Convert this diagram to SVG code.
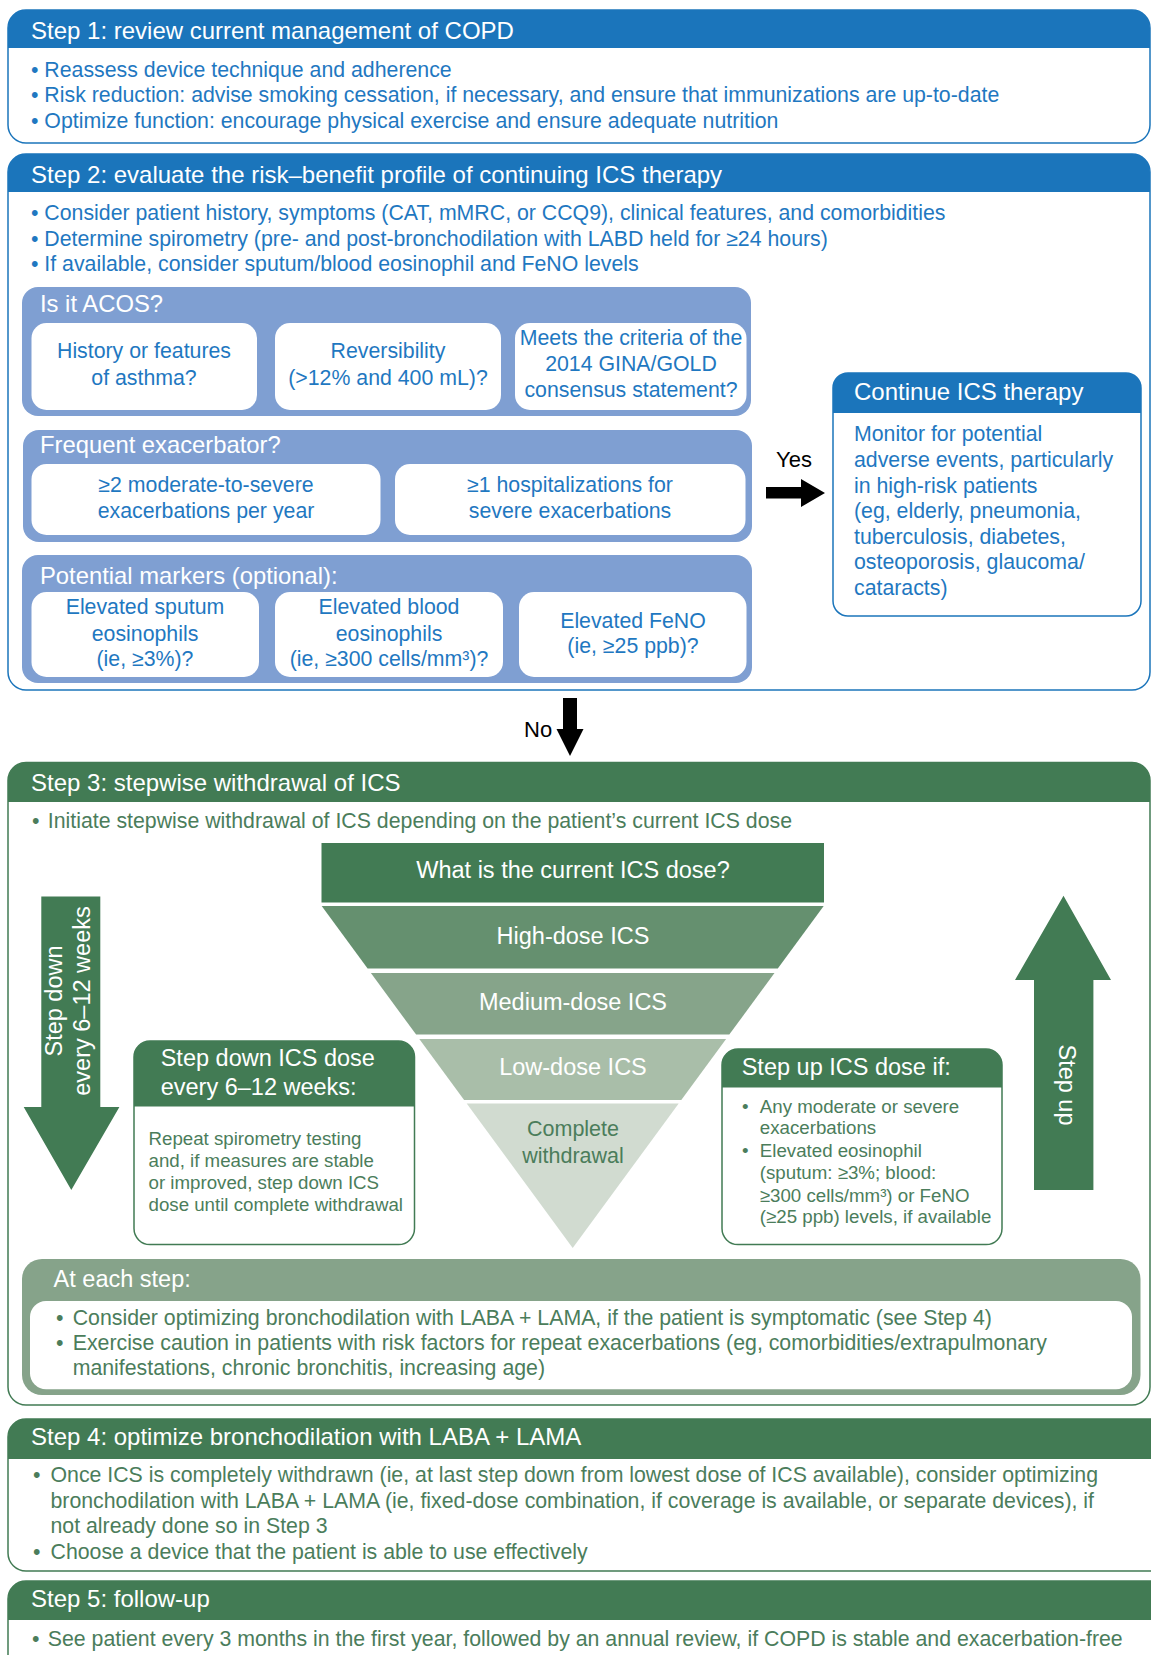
<svg xmlns="http://www.w3.org/2000/svg" width="1151" height="1655" viewBox="0 0 1151 1655">
<style>
text{font-family:"Liberation Sans",Arial,Helvetica,sans-serif}
.hd{font-size:24px;fill:#fff}
.bt{font-size:21.3px;fill:#1f78c1}
.gt{font-size:21.3px;fill:#4b7d5b}
.st{font-size:18.7px;fill:#4b7d5b}
.wt{font-size:23.5px;fill:#fff}
.pt{font-size:23.8px;fill:#fff}
.c{text-anchor:middle}
.bbox{fill:#fff;stroke:#1b75bb;stroke-width:1.5}
.gbox{fill:#fff;stroke:#427b54;stroke-width:1.5}
.bhead{fill:#1b75bb}
.ghead{fill:#427b54}
.panel{fill:#7f9fd2}
.wbox{fill:#fff}
.blk{font-size:22px;fill:#000}
</style>
<g id="step1">
<rect class="bbox" x="8" y="10" width="1142" height="133" rx="18"/>
<path class="bhead" d="M8,48 V28 A18,18 0 0 1 26,10 H1132 A18,18 0 0 1 1150,28 V48 Z"/>
<text class="hd" x="31" y="39">Step 1: review current management of COPD</text>
<text class="bt" x="31" y="77">• Reassess device technique and adherence</text>
<text class="bt" x="31" y="102">• Risk reduction: advise smoking cessation, if necessary, and ensure that immunizations are up-to-date</text>
<text class="bt" x="31" y="128">• Optimize function: encourage physical exercise and ensure adequate nutrition</text>
</g>
<g id="step2">
<rect class="bbox" x="8" y="154" width="1142" height="536" rx="18"/>
<path class="bhead" d="M8,192 V172 A18,18 0 0 1 26,154 H1132 A18,18 0 0 1 1150,172 V192 Z"/>
<text class="hd" x="31" y="183">Step 2: evaluate the risk–benefit profile of continuing ICS therapy</text>
<text class="bt" x="31" y="220">• Consider patient history, symptoms (CAT, mMRC, or CCQ9), clinical features, and comorbidities</text>
<text class="bt" x="31" y="246">• Determine spirometry (pre- and post-bronchodilation with LABD held for ≥24 hours)</text>
<text class="bt" x="31" y="271">• If available, consider sputum/blood eosinophil and FeNO levels</text>
</g>
<g id="acos">
<rect class="panel" x="22" y="287" width="729" height="129" rx="16"/>
<text class="pt" x="40" y="312">Is it ACOS?</text>
<rect class="wbox" x="31.5" y="323" width="225.5" height="87" rx="15"/>
<rect class="wbox" x="275" y="323" width="226" height="87" rx="15"/>
<rect class="wbox" x="515" y="323" width="231.5" height="87" rx="15"/>
<text class="bt c" x="144" y="358">History or features</text>
<text class="bt c" x="144" y="385">of asthma?</text>
<text class="bt c" x="388" y="358">Reversibility</text>
<text class="bt c" x="388" y="385">(&gt;12% and 400 mL)?</text>
<text class="bt c" x="631" y="345">Meets the criteria of the</text>
<text class="bt c" x="631" y="371">2014 GINA/GOLD</text>
<text class="bt c" x="631" y="397">consensus statement?</text>
</g>
<g id="frequent">
<rect class="panel" x="23" y="430" width="729" height="112" rx="16"/>
<text class="pt" x="40" y="453">Frequent exacerbator?</text>
<rect class="wbox" x="31.5" y="464" width="349" height="71" rx="15"/>
<rect class="wbox" x="395" y="464" width="350.5" height="71" rx="15"/>
<text class="bt c" x="206" y="492">≥2 moderate-to-severe</text>
<text class="bt c" x="206" y="518">exacerbations per year</text>
<text class="bt c" x="570" y="492">≥1 hospitalizations for</text>
<text class="bt c" x="570" y="518">severe exacerbations</text>
</g>
<g id="markers">
<rect class="panel" x="22" y="555" width="730" height="128" rx="16"/>
<text class="pt" x="40" y="584">Potential markers (optional):</text>
<rect class="wbox" x="31.5" y="592" width="227.5" height="85" rx="15"/>
<rect class="wbox" x="275" y="592" width="228" height="85" rx="15"/>
<rect class="wbox" x="519" y="592" width="227.5" height="85" rx="15"/>
<text class="bt c" x="145" y="614">Elevated sputum</text>
<text class="bt c" x="145" y="641">eosinophils</text>
<text class="bt c" x="145" y="666">(ie, ≥3%)?</text>
<text class="bt c" x="389" y="614">Elevated blood</text>
<text class="bt c" x="389" y="641">eosinophils</text>
<text class="bt c" x="389" y="666">(ie, ≥300 cells/mm³)?</text>
<text class="bt c" x="633" y="628">Elevated FeNO</text>
<text class="bt c" x="633" y="653">(ie, ≥25 ppb)?</text>
</g>
<g id="continue">
<rect class="bbox" x="833" y="373" width="308" height="243" rx="15"/>
<path class="bhead" d="M833,413 V388 A15,15 0 0 1 848,373 H1126 A15,15 0 0 1 1141,388 V413 Z"/>
<text class="hd" x="854" y="400">Continue ICS therapy</text>
<text class="bt" x="854" y="441">Monitor for potential</text>
<text class="bt" x="854" y="467">adverse events, particularly</text>
<text class="bt" x="854" y="493">in high-risk patients</text>
<text class="bt" x="854" y="518">(eg, elderly, pneumonia,</text>
<text class="bt" x="854" y="544">tuberculosis, diabetes,</text>
<text class="bt" x="854" y="569">osteoporosis, glaucoma/</text>
<text class="bt" x="854" y="595">cataracts)</text>
</g>
<g id="step3">
<rect class="gbox" x="8" y="762.5" width="1142" height="642.5" rx="18"/>
<path class="ghead" d="M8,802 V780.5 A18,18 0 0 1 26,762.5 H1132 A18,18 0 0 1 1150,780.5 V802 Z"/>
<text class="hd" x="31" y="791">Step 3: stepwise withdrawal of ICS</text>
<text class="gt" x="32" y="827.5">•</text>
<text class="gt" x="47.8" y="827.5">Initiate stepwise withdrawal of ICS depending on the patient’s current ICS dose</text>
</g>
<g id="dose-question">
<rect class="ghead" x="321.5" y="843" width="502.5" height="59.5"/>
<text class="wt c" x="573" y="877.5">What is the current ICS dose?</text>
</g>
<g id="high-dose">
<polygon fill="#65906f" points="321.7,906 823.7,906 777.8,968.6 367.6,968.6"/>
<text class="wt c" x="573" y="943.6">High-dose ICS</text>
</g>
<g id="medium-dose">
<polygon fill="#86a48a" points="370.9,973 774.5,973 729.3,1034.6 416.1,1034.6"/>
<text class="wt c" x="573" y="1010">Medium-dose ICS</text>
</g>
<g id="low-dose">
<polygon fill="#a9bea9" points="419.3,1039 726.1,1039 681.3,1100 464.1,1100"/>
<text class="wt c" x="573" y="1075">Low-dose ICS</text>
</g>
<g id="complete">
<polygon fill="#d1dbd0" points="466.7,1103.6 678.7,1103.6 572.7,1248"/>
<text class="c" x="573" y="1136.4" style="font-size:21.5px;fill:#4b7d5b">Complete</text>
<text class="c" x="573" y="1162.5" style="font-size:21.5px;fill:#4b7d5b">withdrawal</text>
</g>
<g id="step-down-arrow">
<polygon class="ghead" points="41.3,896.4 100.3,896.4 100.3,1107 119.4,1107 71.3,1190 23.7,1107 41.3,1107"/>
<text class="wt c" transform="translate(62,1001) rotate(-90)">Step down</text>
<text class="wt c" transform="translate(90,1001) rotate(-90)">every 6–12 weeks</text>
</g>
<g id="step-up-arrow">
<polygon class="ghead" points="1034,1190 1093.4,1190 1093.4,980 1111,980 1063.5,895.7 1015,980 1034,980"/>
<text class="wt c" transform="translate(1058.5,1085) rotate(90)">Step up</text>
</g>
<g id="step-down-box">
<rect class="gbox" x="134" y="1041" width="280.5" height="203.6" rx="16"/>
<path class="ghead" d="M134,1106.4 V1057 A16,16 0 0 1 150,1041 H398.5 A16,16 0 0 1 414.5,1057 V1106.4 Z"/>
<text class="wt" x="160.7" y="1066">Step down ICS dose</text>
<text class="wt" x="160.7" y="1094.6">every 6–12 weeks:</text>
<text class="st" x="148.5" y="1144.6">Repeat spirometry testing</text>
<text class="st" x="148.5" y="1166.5">and, if measures are stable</text>
<text class="st" x="148.5" y="1188.6">or improved, step down ICS</text>
<text class="st" x="148.5" y="1210.7">dose until complete withdrawal</text>
</g>
<g id="step-up-box">
<rect class="gbox" x="722" y="1049" width="280" height="195.6" rx="16"/>
<path class="ghead" d="M722,1087.5 V1065 A16,16 0 0 1 738,1049 H986 A16,16 0 0 1 1002,1065 V1087.5 Z"/>
<text class="wt" x="741.7" y="1075">Step up ICS dose if:</text>
<text class="st" x="742" y="1112.5">•</text>
<text class="st" x="759.8" y="1112.5">Any moderate or severe</text>
<text class="st" x="759.8" y="1134">exacerbations</text>
<text class="st" x="742" y="1157">•</text>
<text class="st" x="759.8" y="1157">Elevated eosinophil</text>
<text class="st" x="759.8" y="1179">(sputum: ≥3%; blood:</text>
<text class="st" x="759.8" y="1201.5">≥300 cells/mm³) or FeNO</text>
<text class="st" x="759.8" y="1223">(≥25 ppb) levels, if available</text>
</g>
<g id="each-step">
<rect fill="#86a38a" x="22" y="1259" width="1118.5" height="136" rx="20"/>
<text class="wt" x="53.6" y="1287">At each step:</text>
<rect class="wbox" x="30" y="1301" width="1102" height="88.3" rx="16"/>
<text class="gt" x="56" y="1325">•</text>
<text class="gt" x="72.7" y="1325">Consider optimizing bronchodilation with LABA + LAMA, if the patient is symptomatic (see Step 4)</text>
<text class="gt" x="56" y="1350">•</text>
<text class="gt" x="72.7" y="1350">Exercise caution in patients with risk factors for repeat exacerbations (eg, comorbidities/extrapulmonary</text>
<text class="gt" x="72.7" y="1375">manifestations, chronic bronchitis, increasing age)</text>
</g>
<g id="step4">
<rect class="gbox" x="8" y="1419" width="1170" height="152" rx="18"/>
<path class="ghead" d="M8,1459 V1437 A18,18 0 0 1 26,1419 H1180 V1459 Z"/>
<text class="hd" x="31" y="1445">Step 4: optimize bronchodilation with LABA + LAMA</text>
<text class="gt" x="33" y="1482">•</text>
<text class="gt" x="50.5" y="1482">Once ICS is completely withdrawn (ie, at last step down from lowest dose of ICS available), consider optimizing</text>
<text class="gt" x="50.5" y="1508">bronchodilation with LABA + LAMA (ie, fixed-dose combination, if coverage is available, or separate devices), if</text>
<text class="gt" x="50.5" y="1533">not already done so in Step 3</text>
<text class="gt" x="33" y="1559">•</text>
<text class="gt" x="50.5" y="1559">Choose a device that the patient is able to use effectively</text>
</g>
<g id="step5">
<rect class="gbox" x="8" y="1581" width="1170" height="100" rx="18"/>
<path class="ghead" d="M8,1620 V1599 A18,18 0 0 1 26,1581 H1180 V1620 Z"/>
<text class="hd" x="31" y="1607">Step 5: follow-up</text>
<text class="gt" x="32" y="1646">•</text>
<text class="gt" x="47.8" y="1646">See patient every 3 months in the first year, followed by an annual review, if COPD is stable and exacerbation-free</text>
</g>
<g id="connectors">
<text class="blk" x="776" y="467">Yes</text>
<polygon fill="#000" points="766,487 801,487 801,479 825,493 801,507 801,498.5 766,498.5"/>
<text class="blk" x="524" y="737">No</text>
<polygon fill="#000" points="563,698 577,698 577,729 583.5,729 570,756 556.5,729 563,729"/>
</g>
</svg>
